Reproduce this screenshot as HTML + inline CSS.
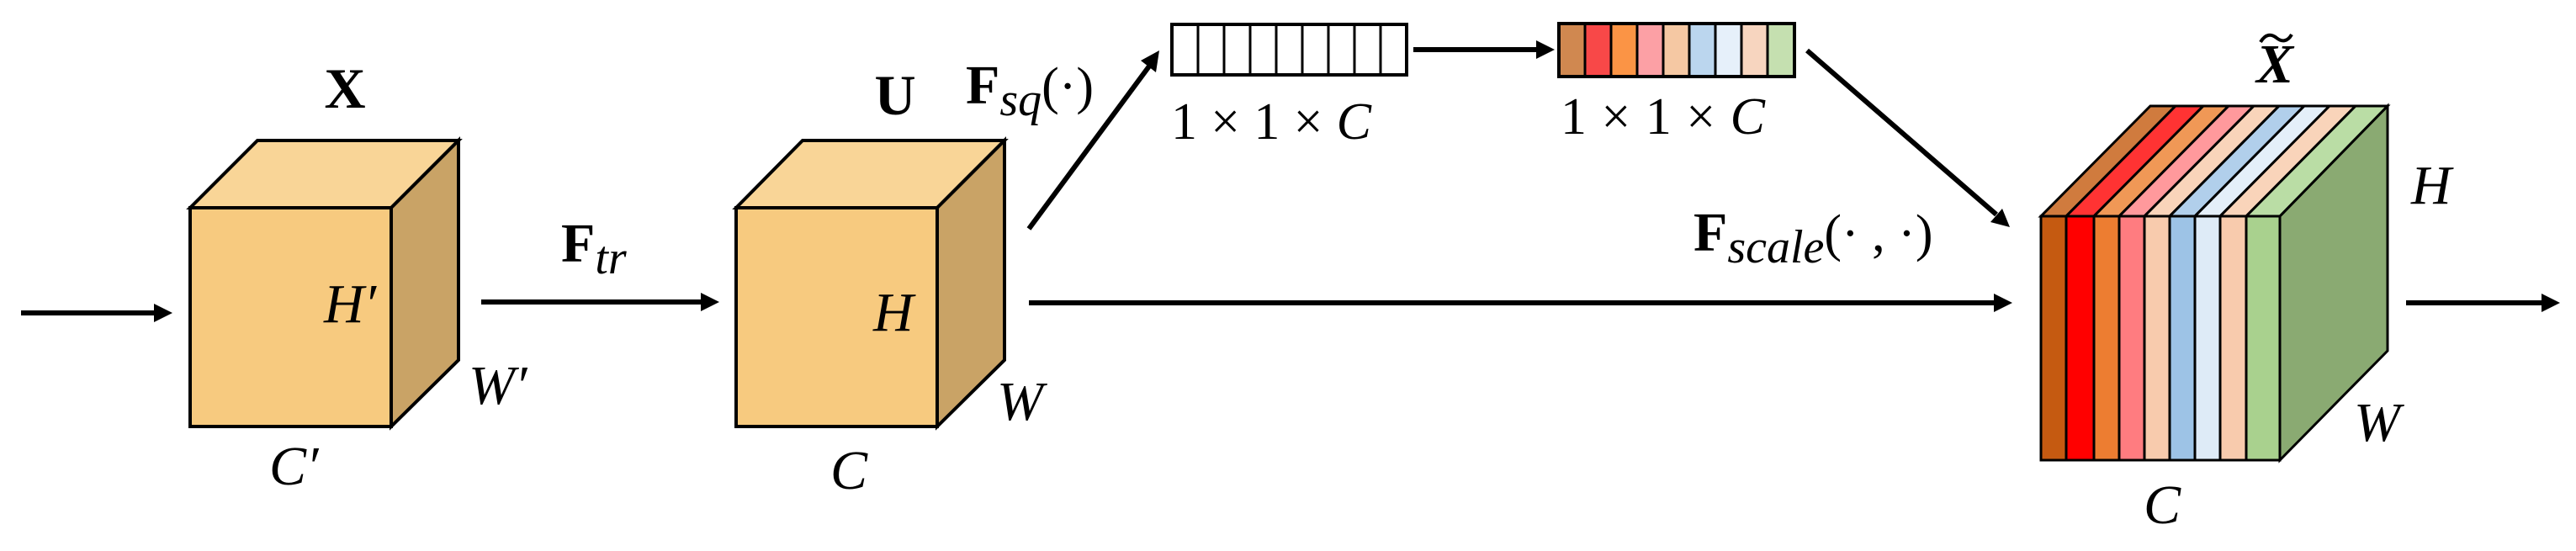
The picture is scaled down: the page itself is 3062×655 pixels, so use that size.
<!DOCTYPE html>
<html><head><meta charset="utf-8"><style>
html,body{margin:0;padding:0;background:#fff;width:3062px;height:655px;overflow:hidden}
svg{display:block}
.b{font-family:"Liberation Serif",serif;font-weight:bold}
.i{font-family:"Liberation Serif",serif;font-style:italic}
.r{font-family:"Liberation Serif",serif}
</style></head><body>
<svg width="3062" height="655" viewBox="0 0 3062 655" xmlns="http://www.w3.org/2000/svg">
<g stroke="#000" stroke-width="4" stroke-linejoin="miter">
<polygon points="226,247 306,167 545,167 465,247" fill="#F9D597"/>
<polygon points="465,247 545,167 545,428 465,507" fill="#C9A366"/>
<rect x="226" y="247" width="239" height="260" fill="#F7CA7F"/>
<polygon points="875,247 954,167 1194,167 1114,247" fill="#F9D597"/>
<polygon points="1114,247 1194,167 1194,428 1114,507" fill="#C9A366"/>
<rect x="875" y="247" width="239" height="260" fill="#F7CA7F"/>
</g>
<g stroke="#000" stroke-width="6" fill="none">
<line x1="25" y1="372" x2="185" y2="372"/>
<line x1="572" y1="359" x2="835" y2="359"/>
<line x1="1223" y1="272" x2="1368" y2="76"/>
<line x1="1680" y1="59" x2="1828" y2="59"/>
<line x1="2148" y1="60" x2="2373" y2="255"/>
<line x1="1223" y1="360" x2="2372" y2="360"/>
<line x1="2860" y1="360" x2="3023" y2="360"/>
</g>
<g fill="#000">
<polygon points="205,372 183,361 183,383"/>
<polygon points="855,359 833,348 833,370"/>
<polygon points="1378,60 1356,72 1374,86"/>
<polygon points="1848,59 1826,48 1826,70"/>
<polygon points="2389,270 2366,264 2380,248"/>
<polygon points="2392,360 2370,349 2370,371"/>
<polygon points="3043,360 3021,349 3021,371"/>
</g>
<g stroke="#000" stroke-width="4" fill="#fff">
<rect x="1393" y="29" width="279" height="60"/>
</g>
<g stroke="#000" stroke-width="3">
<line x1="1424" y1="29" x2="1424" y2="89"/><line x1="1455" y1="29" x2="1455" y2="89"/>
<line x1="1486" y1="29" x2="1486" y2="89"/><line x1="1517" y1="29" x2="1517" y2="89"/>
<line x1="1548" y1="29" x2="1548" y2="89"/><line x1="1579" y1="29" x2="1579" y2="89"/>
<line x1="1610" y1="29" x2="1610" y2="89"/><line x1="1641" y1="29" x2="1641" y2="89"/>
</g>
<g stroke="#000" stroke-width="3">
<rect x="1853" y="28" width="31" height="63" fill="#D08850"/>
<rect x="1884" y="28" width="31" height="63" fill="#F84848"/>
<rect x="1915" y="28" width="31" height="63" fill="#FB9445"/>
<rect x="1946" y="28" width="31" height="63" fill="#FCA0A5"/>
<rect x="1977" y="28" width="31" height="63" fill="#F5C8A3"/>
<rect x="2008" y="28" width="31" height="63" fill="#BBD6EE"/>
<rect x="2039" y="28" width="31" height="63" fill="#E6F0FA"/>
<rect x="2070" y="28" width="31" height="63" fill="#F7D5BF"/>
<rect x="2101" y="28" width="32" height="63" fill="#C5E0B0"/>
</g>
<rect x="1853" y="28" width="280" height="63" fill="none" stroke="#000" stroke-width="4"/>
<g stroke="#000" stroke-width="3" stroke-linejoin="miter">
<polygon points="2710,257 2838,126 2838,417 2710,547" fill="#8AAA72"/>
<polygon points="2426,257 2556,126 2586,126 2456,257" fill="#D07B3E"/>
<polygon points="2456,257 2586,126 2619,126 2489,257" fill="#FF3333"/>
<polygon points="2489,257 2619,126 2649,126 2519,257" fill="#F09856"/>
<polygon points="2519,257 2649,126 2679,126 2549,257" fill="#FF999C"/>
<polygon points="2549,257 2679,126 2709,126 2579,257" fill="#F9D4BA"/>
<polygon points="2579,257 2709,126 2739,126 2609,257" fill="#B1CFEB"/>
<polygon points="2609,257 2739,126 2769,126 2639,257" fill="#E4EFF9"/>
<polygon points="2639,257 2769,126 2800,126 2670,257" fill="#F9D4BA"/>
<polygon points="2670,257 2800,126 2838,126 2710,257" fill="#BADDA5"/>
<rect x="2426" y="257" width="30" height="290" fill="#C55A11"/>
<rect x="2456" y="257" width="33" height="290" fill="#FF0000"/>
<rect x="2489" y="257" width="30" height="290" fill="#ED7D31"/>
<rect x="2519" y="257" width="30" height="290" fill="#FF7C80"/>
<rect x="2549" y="257" width="30" height="290" fill="#F8CBAD"/>
<rect x="2579" y="257" width="30" height="290" fill="#9DC3E6"/>
<rect x="2609" y="257" width="30" height="290" fill="#DEEBF7"/>
<rect x="2639" y="257" width="31" height="290" fill="#F8CBAD"/>
<rect x="2670" y="257" width="40" height="290" fill="#A9D18E"/>
</g>
<text x="410" y="128" class="b" font-size="68" text-anchor="middle">X</text>
<text x="1064" y="136" class="b" font-size="68" text-anchor="middle">U</text>
<text x="385" y="383" class="i" font-size="66">H′</text>
<text x="557" y="480" class="i" font-size="66">W′</text>
<text x="320" y="576" class="i" font-size="66">C′</text>
<text x="1038" y="393" class="i" font-size="66">H</text>
<text x="1185" y="499" class="i" font-size="66">W</text>
<text x="987" y="581" class="i" font-size="66">C</text>
<text x="667" y="311" class="b" font-size="66">F<tspan class="i" font-weight="normal" font-size="56" dy="14">tr</tspan></text>
<text x="1148" y="123" class="b" font-size="66">F<tspan class="i" font-weight="normal" font-size="56" dy="14">sq</tspan><tspan class="r" font-weight="normal" font-size="62" dy="-14">(·)</tspan></text>
<text x="2013" y="298" class="b" font-size="66">F<tspan class="i" font-weight="normal" font-size="56" dy="14">scale</tspan><tspan class="r" font-weight="normal" font-size="62" dy="-14">(· , ·)</tspan></text>
<text x="1392" y="165" class="r" font-size="62" textLength="238" lengthAdjust="spacing">1×1×<tspan class="i">C</tspan></text>
<text x="1855" y="159" class="r" font-size="62" textLength="243" lengthAdjust="spacing">1×1×<tspan class="i">C</tspan></text>
<text x="2704" y="98" class="b" font-size="66" text-anchor="middle" font-style="italic">X</text>
<path d="M2687,50 C2693,40 2700,40 2706,45 C2712,50 2719,50 2724,41" stroke="#000" stroke-width="4" fill="none"/>
<text x="2866" y="242" class="i" font-size="66">H</text>
<text x="2798" y="524" class="i" font-size="66">W</text>
<text x="2548" y="622" class="i" font-size="66">C</text>
</svg>
</body></html>
